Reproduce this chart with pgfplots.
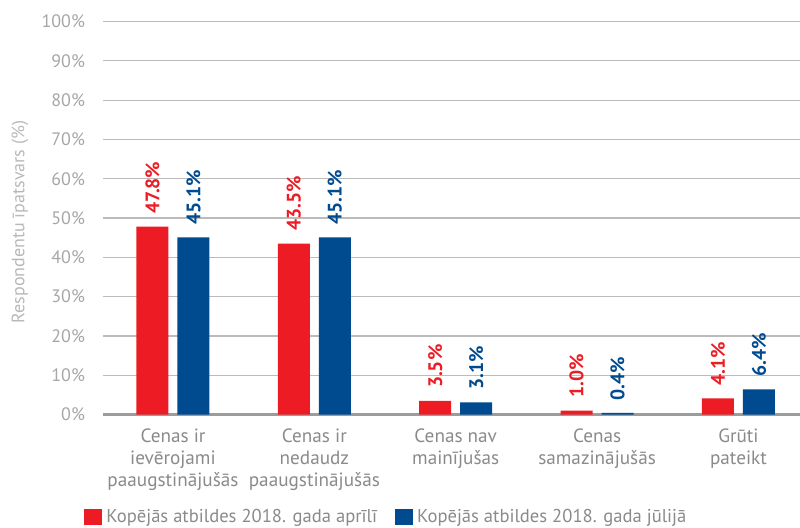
\documentclass[border=0pt]{standalone}
\usepackage{fontspec}
\setmainfont{PT Sans}
\usepackage{pgfplots}
\pgfplotsset{compat=1.18}
\definecolor{cred}{HTML}{ED1C24}
\definecolor{cblue}{HTML}{004A8F}
\definecolor{tickgray}{HTML}{A6A6A6}
\definecolor{catgray}{HTML}{8A8A8A}
\definecolor{gridgray}{HTML}{BBBBBB}
\definecolor{basegray}{HTML}{9C9C9C}
\begin{document}
\begin{tikzpicture}
\begin{axis}[
  scale only axis, width=348.5pt, height=196.5pt,
  xmin=-0.495, xmax=4.435, ymin=0, ymax=100,
  ybar=4.5pt, bar width=16pt,
  axis line style={draw=none},
  major tick length=0pt,
  ytick={0,10,...,100},
  /pgf/number format/assume math mode=true,
  yticklabel={\pgfmathprintnumber{\tick}\%},
  yticklabel style={font=\fontsize{9}{10}\selectfont, text=tickgray, xshift=-5.5pt},
  ymajorgrids, grid style={gridgray, line width=0.6pt},
  extra y ticks={0}, extra y tick labels={},
  extra y tick style={grid style={basegray, line width=1.4pt}},
  xtick={0,1,2,3,4},
  xticklabels={{Cenas ir\\[1pt]ievērojami\\[1pt]paaugstinājušās},{Cenas ir\\[1pt]nedaudz\\[1pt]paaugstinājušās},{Cenas nav\\[1pt]mainījušas},{Cenas\\[1pt]samazinājušās},{Grūti\\[1pt]pateikt}},
  xticklabel style={align=center, font=\fontsize{9.6}{10}\selectfont, text=catgray, yshift=-3.5pt},
  every axis y label/.style={at={([xshift=-41.5pt]rel axis cs:0,0.49)}, rotate=90, anchor=center},
  ylabel={Respondentu īpatsvars (\%)},
  ylabel style={font=\fontsize{9}{10}\selectfont, text=tickgray!80},
  nodes near coords={\pgfmathprintnumber[fixed,fixed zerofill,precision=1]{\pgfplotspointmeta}\%},
  nodes near coords style={rotate=90, anchor=west, inner sep=6.2pt, font=\bfseries\fontsize{9.8}{10}\selectfont},
  legend style={at={(0.408,-0.261)}, anchor=center, draw=none, fill=none, legend columns=2,
    font=\fontsize{9.3}{11}\selectfont, text=catgray,
    /tikz/every even column/.append style={column sep=7pt}},
  legend cell align=left,
]
\addplot[fill=cred, draw=none, every node near coord/.append style={text=cred},
  legend image code/.code={\fill[cred] (-2pt,-4pt) rectangle (7pt,4pt);}]
  coordinates {(0,47.8) (1,43.5) (2,3.5) (3,1.0) (4,4.1)};
\addlegendentry{Kopējās atbildes 2018. gada aprīlī}
\addplot[fill=cblue, draw=none, every node near coord/.append style={text=cblue},
  legend image code/.code={\fill[cblue] (-2pt,-4pt) rectangle (7pt,4pt);}]
  coordinates {(0,45.1) (1,45.1) (2,3.1) (3,0.4) (4,6.4)};
\addlegendentry{Kopējās atbildes 2018. gada jūlijā}
\end{axis}
\pgfresetboundingbox
\path (-51.5pt,-56.25pt) rectangle (348.5pt,207.25pt);
\end{tikzpicture}
\end{document}
